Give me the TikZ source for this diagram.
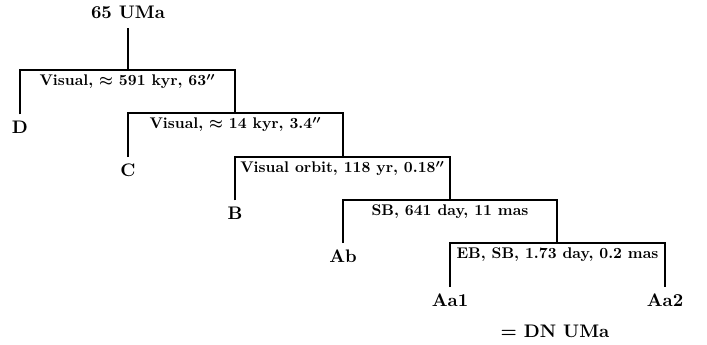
\documentclass[tikz,border=0pt]{standalone}
\usepackage{graphicx}
\newcommand{\lbltxt}[1]{\scalebox{0.85}{\bfseries\boldmath #1}}
\begin{document}
\begin{tikzpicture}[x=0.55pt,y=-0.55pt,
  star/.style={font=\bfseries, inner sep=3.33pt},
  lab/.style={anchor=base, inner sep=0pt},
  link/.style={line width=1.1pt}]
\useasboundingbox (0,0) rectangle (707,345);
% stars
\node[star, outer sep=2pt] (R) at (128,12) {65 UMa};
\node[star] (D) at (20,127) {D};
\node[star] (C) at (128,170) {C};
\node[star] (B) at (235,213) {B};
\node[star] (Ab) at (343,256) {Ab};
\node[star] (Aa1) at (450,300) {Aa1};
\node[star] (Aa2) at (665,300) {Aa2};
\node[star] (DN) at (555,331) {= DN UMa};
% junctions
\coordinate (j1) at (128,70);
\coordinate (j2) at (235,113);
\coordinate (j3) at (343,157);
\coordinate (j4) at (450,200);
\coordinate (j5) at (557,243);
% connectors
\draw[link] (R) -- (j1);
\draw[link] (D) |- (j1) -| (j2);
\draw[link] (C) |- (j2) -| (j3);
\draw[link] (B) |- (j3) -| (j4);
\draw[link] (Ab) |- (j4) -| (j5);
\draw[link] (Aa1) |- (j5) -| (Aa2);
% labels
\node[lab] (l1) at (127.5,86) {\lbltxt{Visual, $\approx$ 591 kyr, $63''$}};
\node[lab] (l2) at (235.5,129) {\lbltxt{Visual, $\approx$ 14 kyr, $3.4''$}};
\node[lab] (l3) at (342.5,173) {\lbltxt{Visual orbit, 118 yr, $0.18''$}};
\node[lab] (l4) at (450,216) {\lbltxt{SB, 641 day, 11 mas}};
\node[lab] (l5) at (557.5,259) {\lbltxt{EB, SB, 1.73 day, 0.2 mas}};
\end{tikzpicture}
\end{document}
